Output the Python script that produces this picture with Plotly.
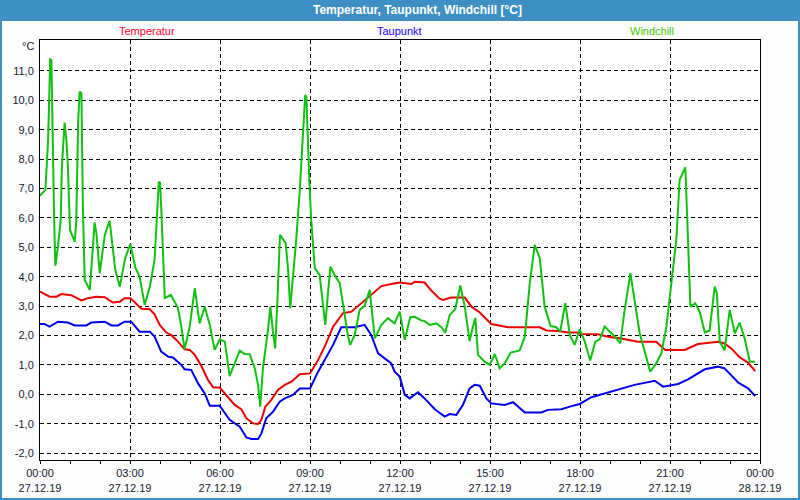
import plotly.graph_objects as go

# Hours after 27.12.19 00:00
temp_h = [0, 0.32, 0.55, 0.71, 1.04, 1.38, 1.6, 1.88, 2.16, 2.43, 2.66, 2.82, 3.01, 3.27, 3.38, 3.66, 3.82, 3.99, 4.21, 4.38, 4.6, 4.82, 4.99, 5.16, 5.38, 5.6, 5.77, 5.99,
          6.27, 6.49, 6.71, 6.88, 7.1, 7.27, 7.38, 7.51, 7.71, 7.93, 8.16, 8.38, 8.66, 9.0, 9.27, 9.49, 9.77, 10.1, 10.38, 10.71, 11.04, 11.38, 11.71, 11.99,
          12.38, 12.49, 12.82, 13.04, 13.32, 13.43, 13.71, 14.16, 14.38, 14.66, 15.04, 15.27, 15.6, 16.16, 16.66, 16.88, 17.27, 17.6, 17.99,
          18.01, 18.6, 18.93, 19.38, 19.93, 20.54, 20.84, 21.49, 21.93, 22.6, 22.82, 23.04, 23.32, 23.6, 23.84]
temp_v = [3.49, 3.32, 3.32, 3.41, 3.37, 3.19, 3.27, 3.32, 3.30, 3.12, 3.15, 3.27, 3.27, 3.04, 2.91, 2.89, 2.72, 2.36, 2.10, 2.01, 1.79, 1.53, 1.51, 1.34, 0.96, 0.49, 0.24, 0.23,
          -0.08, -0.36, -0.51, -0.82, -0.99, -1.01, -0.87, -0.42, -0.19, 0.15, 0.32, 0.43, 0.68, 0.71, 1.17, 1.62, 2.30, 2.76, 2.81, 3.10, 3.41, 3.68, 3.75, 3.80,
          3.75, 3.83, 3.80, 3.53, 3.25, 3.21, 3.29, 3.29, 2.98, 2.78, 2.39, 2.34, 2.28, 2.28, 2.28, 2.17, 2.15, 2.10, 2.10,
          2.05, 2.04, 1.96, 1.90, 1.79, 1.79, 1.51, 1.51, 1.71, 1.79, 1.73, 1.56, 1.26, 1.08, 0.79]

dew_h = [0, 0.15, 0.32, 0.6, 0.93, 1.16, 1.54, 1.71, 2.16, 2.38, 2.6, 2.82, 3.04, 3.32, 3.66, 3.82, 4.04, 4.27, 4.43, 4.71, 4.82, 5.04, 5.27, 5.49, 5.66, 5.99,
         6.32, 6.66, 6.88, 7.04, 7.27, 7.38, 7.54, 7.77, 7.99, 8.16, 8.43, 8.66, 9.0, 9.27, 9.49, 9.77, 10.04, 10.49, 10.82, 11.04, 11.27, 11.49, 11.71, 11.82, 11.99,
         12.16, 12.32, 12.6, 12.82, 13.16, 13.49, 13.66, 13.88, 14.1, 14.32, 14.49, 14.66, 14.88, 15.04, 15.49, 15.77, 16.16, 16.71, 16.93, 17.38, 17.66, 17.99,
         18.38, 18.82, 19.27, 19.82, 20.49, 20.77, 21.27, 21.6, 22.16, 22.6, 22.82, 23.27, 23.6, 23.84]
dew_v = [2.39, 2.39, 2.30, 2.47, 2.44, 2.34, 2.34, 2.44, 2.47, 2.34, 2.34, 2.47, 2.47, 2.13, 2.13, 1.96, 1.45, 1.28, 1.25, 1.00, 0.85, 0.83, 0.37, 0.03, -0.39, -0.39,
         -0.87, -1.10, -1.47, -1.52, -1.52, -1.33, -0.82, -0.59, -0.25, -0.14, -0.02, 0.20, 0.20, 0.77, 1.17, 1.68, 2.28, 2.28, 2.36, 2.02, 1.39, 1.22, 1.05, 0.77, 0.60,
         -0.02, -0.14, 0.07, -0.14, -0.51, -0.76, -0.67, -0.70, -0.36, 0.20, 0.32, 0.29, -0.14, -0.31, -0.36, -0.27, -0.62, -0.62, -0.53, -0.51, -0.42, -0.33,
         -0.10, 0.03, 0.15, 0.32, 0.46, 0.26, 0.35, 0.51, 0.85, 0.94, 0.88, 0.40, 0.20, -0.06]

wind_h = [0, 0.18, 0.27, 0.30, 0.34, 0.38, 0.42, 0.47, 0.51, 0.6, 0.69, 0.73, 0.82, 0.88, 0.93, 1.0, 1.16, 1.21, 1.27, 1.32, 1.38, 1.43, 1.49, 1.66, 1.82, 1.88, 1.99,
          2.16, 2.32, 2.51, 2.66, 2.84, 3.01, 3.18, 3.32, 3.49, 3.66, 3.82, 3.96, 4.0, 4.04, 4.16, 4.36, 4.6, 4.71, 4.82, 4.99, 5.16, 5.32, 5.49, 5.66, 5.82, 5.99,
          6.16, 6.32, 6.49, 6.66, 6.82, 6.99, 7.16, 7.27, 7.34, 7.43, 7.6, 7.68, 7.77, 7.84, 7.91, 8.0, 8.19, 8.27, 8.34, 8.43, 8.54, 8.66, 8.73, 8.8, 8.84, 8.88,
          8.93, 8.98, 9.04, 9.16, 9.32, 9.47, 9.51, 9.6, 9.68, 9.82, 9.99, 10.13, 10.27, 10.34, 10.49, 10.66, 10.82, 10.99, 11.16, 11.38, 11.6, 11.82, 11.99,
          12.16, 12.34, 12.49, 12.71, 12.82, 12.99, 13.21, 13.38, 13.51, 13.66, 13.84, 14.01, 14.16, 14.32, 14.43, 14.51, 14.6, 14.82, 14.99, 15.16, 15.32, 15.49,
          15.69, 15.99, 16.16, 16.32, 16.49, 16.66, 16.82, 17.02, 17.21, 17.34, 17.51, 17.66, 17.82, 17.99,
          18.16, 18.34, 18.51, 18.66, 18.82, 18.99, 19.18, 19.34, 19.49, 19.68, 19.84, 19.99, 20.16, 20.34, 20.54, 20.71, 20.88, 21.04, 21.21, 21.32, 21.51,
          21.58, 21.68, 21.84, 21.99, 22.16, 22.32, 22.49, 22.56, 22.66, 22.82, 22.99, 23.16, 23.32, 23.49, 23.66, 23.84]
wind_v = [6.75, 6.95, 8.65, 10.46, 11.39, 11.37, 8.65, 6.04, 4.37, 5.02, 5.93, 7.74, 9.24, 8.65, 7.74, 5.59, 5.19, 5.93, 9.22, 10.29, 10.24, 6.38, 3.89, 3.55, 5.84, 5.48, 4.12,
          5.41, 5.91, 4.23, 3.66, 4.63, 5.11, 4.31, 4.00, 3.04, 3.66, 4.57, 7.23, 7.20, 6.38, 3.27, 3.38, 2.93, 2.30, 1.53, 2.30, 3.61, 2.41, 2.98, 2.36, 1.51, 1.87,
          1.79, 0.62, 1.05, 1.49, 1.37, 1.36, 0.88, 0.32, -0.42, 0.88, 2.19, 2.98, 2.07, 1.56, 3.10, 5.42, 5.14, 4.23, 2.93, 3.89, 5.25, 6.95, 8.20, 9.56, 10.18, 10.12,
          8.54, 7.18, 5.93, 4.29, 4.06, 2.64, 2.36, 3.44, 4.34, 4.06, 3.78, 2.87, 1.96, 1.68, 2.02, 2.89, 3.00, 3.55, 1.90, 2.36, 2.59, 2.41, 2.81,
          1.85, 2.62, 2.64, 2.51, 2.49, 2.36, 2.41, 2.28, 2.10, 2.70, 2.89, 3.70, 2.98, 1.81, 2.30, 2.59, 1.34, 1.11, 1.00, 1.37, 0.88, 1.05,
          1.42, 1.49, 1.96, 3.72, 5.08, 4.63, 2.98, 2.32, 2.28, 2.13, 3.10, 2.02, 1.68, 2.21,
          1.79, 1.15, 1.79, 1.87, 2.30, 2.13, 1.94, 1.73, 2.87, 4.12, 2.98, 2.07, 1.45, 0.77, 1.05, 1.39, 2.30, 3.66, 5.25, 7.29, 7.72,
          5.82, 2.98, 3.10, 2.81, 2.10, 2.17, 3.66, 3.44, 1.79, 1.49, 2.87, 2.07, 2.44, 1.90, 1.11, 1.11]

x_tickvals = [0, 3, 6, 9, 12, 15, 18, 21, 24]
x_ticktext = ["00:00<br>27.12.19", "03:00<br>27.12.19", "06:00<br>27.12.19", "09:00<br>27.12.19",
              "12:00<br>27.12.19", "15:00<br>27.12.19", "18:00<br>27.12.19", "21:00<br>27.12.19",
              "00:00<br>28.12.19"]
y_tickvals = list(range(-2, 12))
y_ticktext = [f"{v},0" for v in y_tickvals]

series_names = ["Temperatur", "Taupunkt", "Windchill"]
line_colors = ["#ee0000", "#0000ee", "#11c011"]
label_colors = ["#ff0033", "#2200ff", "#44cc00"]

fig = go.Figure()
for name, xs, ys, col in zip(series_names, [temp_h, dew_h, wind_h], [temp_v, dew_v, wind_v], line_colors):
    fig.add_trace(go.Scatter(x=xs, y=ys, mode="lines", name=name,
                             line=dict(color=col, width=2), showlegend=False))

font_fam = "Liberation Sans, Arial, sans-serif"
tick_col = "#1a1a33"

fig.update_layout(
    width=800, height=500, autosize=False,
    margin=dict(l=40, r=40, t=40, b=40, pad=0),
    paper_bgcolor="#fcfdfc", plot_bgcolor="#ffffff",
    font=dict(family=font_fam, size=11, color=tick_col),
    xaxis=dict(range=[0, 24], tickvals=x_tickvals, ticktext=x_ticktext, automargin=False,
               showgrid=True, gridcolor="black", gridwidth=1, griddash="4px,3px",
               showline=True, linecolor="black", linewidth=1, mirror=True,
               ticks="outside", ticklen=3, tickcolor="black",
               minor=dict(dtick=1, tick0=0, ticks="outside", ticklen=3, tickcolor="black", showgrid=False),
               tickfont=dict(size=11, color=tick_col), zeroline=False, fixedrange=True),
    yaxis=dict(range=[-2.235, 12.05], tickvals=y_tickvals, ticktext=y_ticktext, automargin=False,
               showgrid=True, gridcolor="black", gridwidth=1, griddash="4px,3px",
               showline=True, linecolor="black", linewidth=1, mirror=True,
               ticks="", ticklabelstandoff=3,
               tickfont=dict(size=11, color=tick_col), zeroline=False, fixedrange=True),
)

bar_blue = "#3d8fc4"
# title bar
fig.add_shape(type="rect", xref="paper", yref="paper",
              x0=-40/720, x1=1+40/720, y0=1+19/420, y1=1+40/420,
              fillcolor=bar_blue, line=dict(width=0), layer="below")
# outer frame
fig.add_shape(type="rect", xref="paper", yref="paper",
              x0=-39/720, x1=1+39/720, y0=-39/420, y1=1+39/420,
              fillcolor="rgba(0,0,0,0)", line=dict(color=bar_blue, width=2))

fig.add_annotation(text="<b>Temperatur, Taupunkt, Windchill [°C]</b>", xref="paper", yref="paper",
                   x=(417-40)/720, y=(460-10)/420, showarrow=False, xanchor="center", yanchor="middle",
                   font=dict(family=font_fam, size=12, color="white"))

label_x = [147, 399, 652]
for name, lx, col in zip(series_names, label_x, label_colors):
    fig.add_annotation(text=name, xref="paper", yref="paper",
                       x=(lx-40)/720, y=(460-31)/420, showarrow=False,
                       xanchor="center", yanchor="middle",
                       font=dict(family=font_fam, size=11, color=col))

fig.add_annotation(text="°C", xref="paper", yref="paper",
                   x=(36-40)/720, y=(460-46)/420, showarrow=False,
                   xanchor="right", yanchor="middle",
                   font=dict(family=font_fam, size=11, color=tick_col))

fig.write_html("out.html", config={"displayModeBar": False},
               post_script="document.body.style.margin='0';document.body.style.overflow='hidden';")
